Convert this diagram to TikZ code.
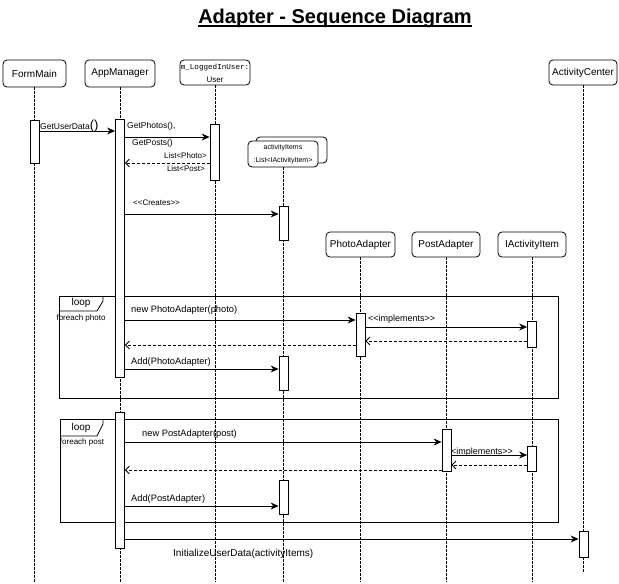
\documentclass[tikz,border=0pt]{standalone}
\usepackage{fontspec}
\setmainfont{Liberation Sans}[Ligatures=TeXOff]
\setmonofont{Liberation Mono}
\usetikzlibrary{arrows.meta,calc}
\begin{document}
\begin{tikzpicture}[x=1pt,y=-1pt,
  head/.style={draw, rounded corners=4pt, line width=0.8pt, fill=white, inner sep=0pt, font=\fontsize{10}{12}\selectfont},
  act/.style={draw, fill=white, line width=0.8pt, minimum width=9pt, inner sep=0pt},
  life/.style={line width=0.8pt, dash pattern=on 2.5pt off 1.5pt},
  msg/.style={line width=0.8pt, -{Stealth[length=8pt,width=7pt]}},
  ret/.style={line width=0.8pt, dash pattern=on 3pt off 2pt, -{Straight Barb[length=4pt,width=8pt]}},
  lbl/.style={inner sep=0pt, anchor=west},
  frame/.style={draw, line width=0.8pt}
]
\useasboundingbox (0,0) rectangle (619,584);

% title
\node[inner sep=0pt, anchor=base, font=\fontsize{20}{24}\selectfont\bfseries] (title) at (335,23) {Adapter - Sequence Diagram};
\draw[line width=1.3pt] ($(title.base west)+(0,3)$) -- ($(title.base east)+(0,3)$);

% loop frames
\draw[frame] (59,296) rectangle (558,398);
\draw[frame] (103,296) -- (103,301) -- (97,311) -- (59,311);
\node[inner sep=0pt, font=\fontsize{10}{12}\selectfont] (loop1) at (81,303) {loop};
\node[inner sep=0pt, font=\fontsize{8}{10}\selectfont] (each1) at (81,318) {foreach photo};

\draw[frame] (60,419) rectangle (558,522);
\draw[frame] (103,419) -- (103,424) -- (97,436) -- (60,436);
\node[inner sep=0pt, font=\fontsize{10}{12}\selectfont] (loop2) at (81,428) {loop};
\node[inner sep=0pt, font=\fontsize{8}{10}\selectfont] (each2) at (82,442) {foreach post};

% heads
\node[head, minimum width=63pt, minimum height=27pt] (fm) at (34.5,73.5) {FormMain};
\node[head, minimum width=70pt, minimum height=27pt] (am) at (120,73.5) {AppManager};
\node[head, minimum width=70pt, minimum height=25pt] (us) at (215,72.5) {};
\node[inner sep=0pt, font=\fontsize{7.6}{9}\ttfamily] (usT1) at (215,68) {m\_LoggedInUser:};
\node[inner sep=0pt, font=\fontsize{8}{10}\selectfont] (usT2) at (215,80) {User};
\node[head, minimum width=71pt, minimum height=26pt] (aiB) at (291.5,150) {};
\node[head, minimum width=70pt, minimum height=26pt] (ai) at (283,154) {};
\node[inner sep=0pt, font=\fontsize{7}{9}\selectfont] (aiT1) at (283,148) {activityItems};
\node[inner sep=0pt, font=\fontsize{7}{9}\selectfont] (aiT2) at (283,161) {:List<IActivityItem>};
\node[head, minimum width=69pt, minimum height=25pt] (pa) at (360.5,244.5) {PhotoAdapter};
\node[head, minimum width=68pt, minimum height=25pt] (po) at (446,244.5) {PostAdapter};
\node[head, minimum width=68pt, minimum height=25pt] (ia) at (532,244.5) {IActivityItem};
\node[head, minimum width=68pt, minimum height=25pt] (ac) at (583,72.5) {ActivityCenter};

% lifelines
\coordinate (bot) at (0,582);
\coordinate (acbot) at (0,573);
\foreach \n in {fm,am,us,ai,pa,po,ia} \draw[life] (\n.south) -- (\n.south |- bot);
\draw[life] (ac.south) -- (ac.south |- acbot);

% activations
\node[act, minimum height=43pt] (fmA) at (34.5,141.5) {};
\node[act, minimum height=258pt] (amA1) at (120,248) {};
\node[act, minimum height=136pt] (amA2) at (120,480) {};
\node[act, minimum height=56pt] (usA) at (214.5,152) {};
\node[act, minimum height=34pt] (aiA1) at (283.5,223) {};
\node[act, minimum height=34pt] (aiA2) at (283.5,373) {};
\node[act, minimum height=34pt] (aiA3) at (283.5,497) {};
\node[act, minimum height=43pt] (paA) at (360.5,334.5) {};
\node[act, minimum height=42pt] (poA) at (446.5,450) {};
\node[act, minimum height=26pt] (iaA1) at (532,334) {};
\node[act, minimum height=25pt] (iaA2) at (532,458.5) {};
\node[act, minimum height=26pt] (acA) at (583.5,544) {};

% message rows
\coordinate (m1) at (0,131);
\coordinate (m2) at (0,137);
\coordinate (m3) at (0,163);
\coordinate (m4) at (0,214);
\coordinate (m5) at (0,320);
\coordinate (m6) at (0,327);
\coordinate (m7) at (0,341);
\coordinate (m8) at (0,345);
\coordinate (m9) at (0,369);
\coordinate (m10) at (0,442);
\coordinate (m11) at (0,455);
\coordinate (m12) at (0,465);
\coordinate (m13) at (0,470);
\coordinate (m14) at (0,506);
\coordinate (m15) at (0,539);

\draw[msg] (fmA.east |- m1) -- (amA1.west |- m1);
\node[lbl, font=\fontsize{8.5}{10}\selectfont] (t1) at (40,126) {GetUserData\fontsize{13}{14}\selectfont()};

\draw[msg] (amA1.east |- m2) -- (usA.west |- m2);
\node[lbl, font=\fontsize{8.5}{10}\selectfont] (t2a) at (127,126) {GetPhotos(),};
\node[lbl, font=\fontsize{8.5}{10}\selectfont] (t2b) at (132,143) {GetPosts()};

\draw[ret] (usA.west |- m3) -- (amA1.east |- m3);
\node[inner sep=0pt, anchor=east, font=\fontsize{8}{10}\selectfont] (t3a) at (207,156) {List<Photo>};
\node[inner sep=0pt, anchor=east, font=\fontsize{8}{10}\selectfont] (t3b) at (205,169) {List<Post>};

\draw[msg] (amA1.east |- m4) -- (aiA1.west |- m4);
\node[lbl, font=\fontsize{8}{10}\selectfont] (t4) at (133,203) {<<Creates>>};

\draw[msg] (amA1.east |- m5) -- (paA.west |- m5);
\node[lbl, font=\fontsize{9.3}{11}\selectfont] (t5) at (131,310) {new PhotoAdapter(photo)};

\draw[msg] (paA.east |- m6) -- (iaA1.west |- m6);
\node[lbl, font=\fontsize{9}{11}\selectfont] (t6) at (368,319) {<<implements>>};

\draw[ret] (iaA1.west |- m7) -- (paA.east |- m7);
\draw[ret] (paA.west |- m8) -- (amA1.east |- m8);

\draw[msg] (amA1.east |- m9) -- (aiA2.west |- m9);
\node[lbl, font=\fontsize{9.3}{11}\selectfont] (t9) at (131,362) {Add(PhotoAdapter)};

\draw[msg] (amA2.east |- m10) -- (poA.west |- m10);
\node[lbl, font=\fontsize{9.3}{11}\selectfont] (t10) at (142,434) {new PostAdapter(post)};

\draw[msg] (poA.east |- m11) -- (iaA2.west |- m11);
\node[lbl, font=\fontsize{9}{11}\selectfont] (t11) at (451,452) {<implements>>};

\draw[ret] (iaA2.west |- m12) -- (poA.east |- m12);
\draw[ret] (poA.west |- m13) -- (amA2.east |- m13);

\draw[msg] (amA2.east |- m14) -- (aiA3.west |- m14);
\node[lbl, font=\fontsize{9.3}{11}\selectfont] (t14) at (131,499) {Add(PostAdapter)};

\draw[msg] (amA2.east |- m15) -- (acA.west |- m15);
\node[lbl, font=\fontsize{10}{12}\selectfont] (t15) at (173,554) {InitializeUserData(activityItems)};
\end{tikzpicture}
\end{document}
